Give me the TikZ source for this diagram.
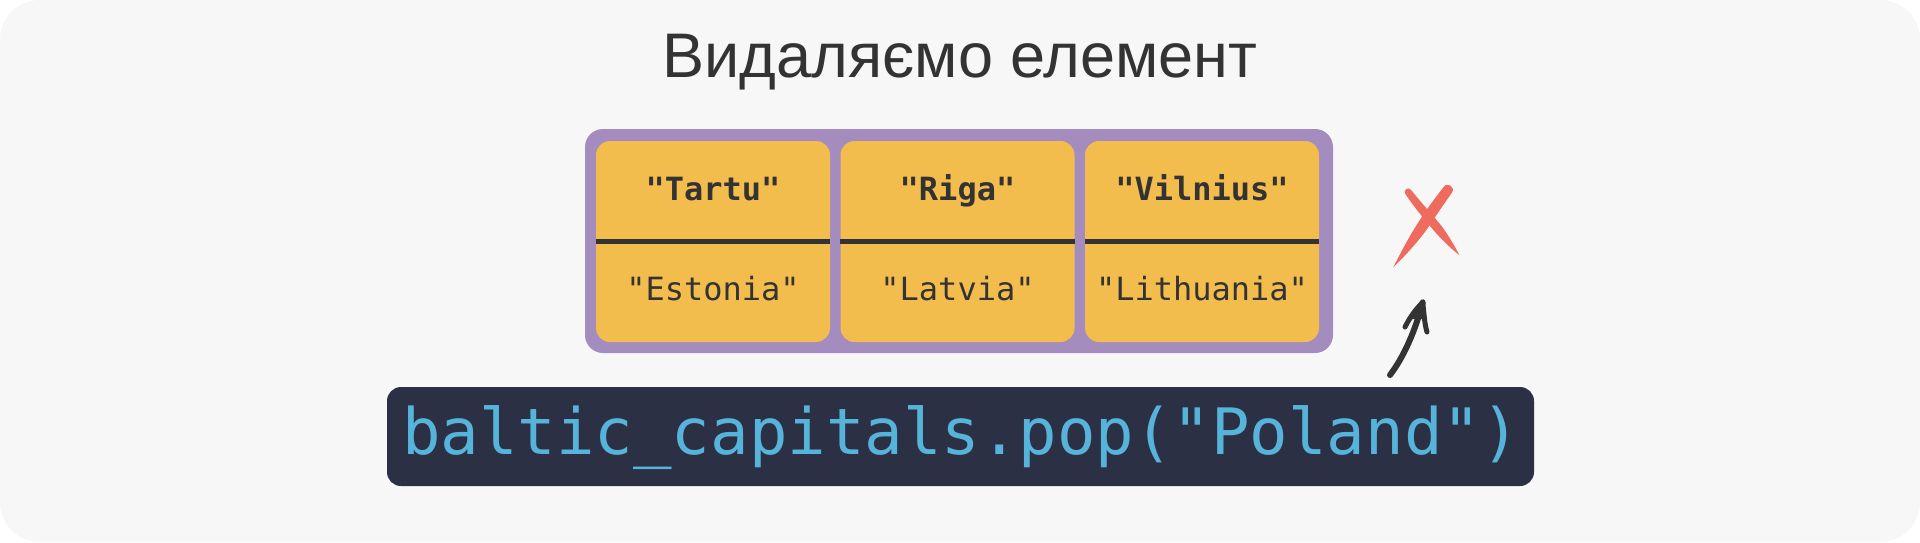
\documentclass[tikz,border=0pt]{standalone}
\usepackage{fontspec}
\setmainfont{Liberation Sans}
\setmonofont{DejaVu Sans Mono}
\definecolor{bgc}{HTML}{F7F7F8}
\definecolor{purp}{HTML}{A48CBE}
\definecolor{yel}{HTML}{F3BD4E}
\definecolor{ink}{HTML}{333333}
\definecolor{codebg}{HTML}{2C3045}
\definecolor{codefg}{HTML}{56B3DA}
\definecolor{crossc}{HTML}{EE6B5E}
\tikzset{
  container/.style={fill=purp, rounded corners=18pt, minimum width=748pt, minimum height=224pt, inner sep=0pt},
  cellbox/.style={fill=yel, rounded corners=14pt, minimum width=234pt, minimum height=201pt, inner sep=0pt},
  divider/.style={draw=ink, line width=4.2pt},
  keytxt/.style={text=ink, font=\ttfamily\bfseries\fontsize{32}{36}\selectfont, anchor=base, inner sep=0pt},
  valtxt/.style={text=ink, font=\ttfamily\fontsize{32}{36}\selectfont, anchor=base, inner sep=0pt},
  codebox/.style={fill=codebg, rounded corners=14pt, minimum width=1147pt, minimum height=99pt, inner sep=0pt},
  codetxt/.style={text=codefg, font=\ttfamily\fontsize{64}{70}\selectfont, anchor=base, inner sep=0pt},
  titletxt/.style={text=ink, font=\fontsize{63}{70}\selectfont, anchor=base, inner sep=0pt},
  arrowline/.style={draw=ink, line width=6pt, line cap=round, line join=round},
  crossstroke/.style={fill=crossc},
}
\begin{document}
\begin{tikzpicture}[x=1pt,y=-1pt]
\useasboundingbox (0,0) rectangle (1920,542);
\fill[white] (0,0) rectangle (1920,542);
\fill[bgc, rounded corners=40pt] (0,0) rectangle (1920,542);

\node[titletxt] (title) at (960,77) {Видаляємо елемент};

\node[container] (arr) at (959,241) {};
\node[cellbox] (c1) at (713,241.5) {};
\node[cellbox] (c2) at (957.5,241.5) {};
\node[cellbox] (c3) at (1202,241.5) {};
\draw[divider] (c1.west) -- (c1.east);
\draw[divider] (c2.west) -- (c2.east);
\draw[divider] (c3.west) -- (c3.east);

\node[keytxt] (k1) at (713,200) {"Tartu"};
\node[keytxt] (k2) at (957.5,200) {"Riga"};
\node[keytxt] (k3) at (1202,200) {"Vilnius"};
\node[valtxt] (v1) at (713,300) {"Estonia"};
\node[valtxt] (v2) at (957.5,300) {"Latvia"};
\node[valtxt] (v3) at (1202,300) {"Lithuania"};

\node[codebox] (cb) at (960.5,436.5) {};
\node[codetxt] (code) at (961,454) {baltic\_capitals.pop("Poland")};

% cross: two tapering brush strokes
\fill[crossstroke] (1393.3,267.3)
  .. controls (1402,250) and (1410,235) .. (1419.5,220.6)
  .. controls (1428,207) and (1436,197) .. (1443.7,186.9)
  .. controls (1447.5,181.5) and (1455.7,187.3) .. (1451.9,192.7)
  .. controls (1444,204) and (1437,214) .. (1428.5,227)
  .. controls (1418,242) and (1404,257) .. cycle;
\fill[crossstroke] (1459.3,255)
  .. controls (1450,248) and (1439,237) .. (1429.9,225.9)
  .. controls (1420,214) and (1412,204) .. (1405.5,194.2)
  .. controls (1402.6,190.6) and (1408,186.2) .. (1410.9,189.8)
  .. controls (1419,200) and (1428,210) .. (1436.9,220.3)
  .. controls (1446,231) and (1453,243) .. cycle;

% arrow
\coordinate (atail) at (1390,375);
\coordinate (atip) at (1422.7,302.3);
\draw[arrowline] (atail) .. controls (1403,358) and (1415,332) .. (atip);
\fill[ink] (atip) -- (1411,319) -- (1425,319) -- cycle;
\draw[arrowline, line width=5pt] (1405,327) .. controls (1410,317) and (1416,309) .. (atip)
  .. controls (1424,313) and (1424.5,324) .. (1427,332);
\end{tikzpicture}
\end{document}
